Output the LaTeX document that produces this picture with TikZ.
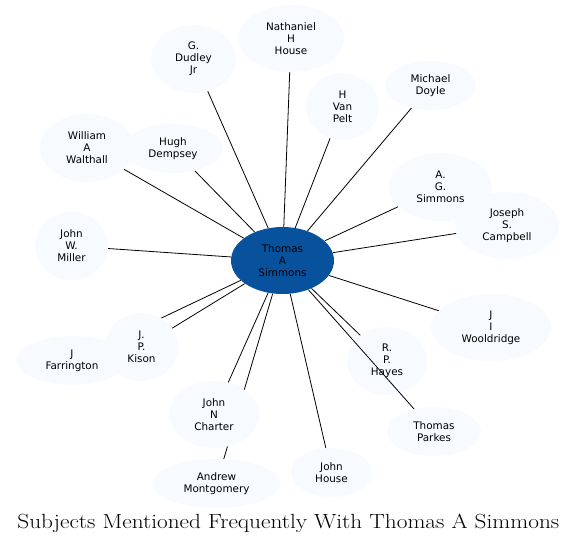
\documentclass[tikz,border=0pt]{standalone}
\usepackage{fontspec}
\newfontfamily\nodefont{DejaVu Sans}
\usetikzlibrary{shapes.geometric}
\definecolor{centerblue}{HTML}{08519C}
\definecolor{lightblue}{HTML}{F7FBFF}
\pgfdeclarelayer{background}
\pgfsetlayers{background,main}
\tikzset{
  person/.style={ellipse, fill=lightblue, draw=none, inner sep=0pt, align=center,
    font=\nodefont\fontsize{10.4}{12}\selectfont, text=black},
  hub/.style={person, fill=centerblue},
  link/.style={draw=black, line width=0.8pt}
}
\begin{document}
\begin{tikzpicture}[x=1pt,y=-1pt]
\useasboundingbox (0,0) rectangle (577,544);
% outer nodes
\node[person, minimum width=85pt, minimum height=68pt] (dudley) at (193.5,59) {G.\\Dudley\\Jr};
\node[person, minimum width=106pt, minimum height=67pt] (nathaniel) at (291,38.5) {Nathaniel\\H\\House};
\node[person, minimum width=73pt, minimum height=67pt] (vanpelt) at (342.5,106.5) {H\\Van\\Pelt};
\node[person, minimum width=91pt, minimum height=49pt] (doyle) at (430.5,85.5) {Michael\\Doyle};
\node[person, minimum width=103pt, minimum height=68pt] (agsimmons) at (440.5,187) {A.\\G.\\Simmons};
\node[person, minimum width=104pt, minimum height=67pt] (campbell) at (507,225.5) {Joseph\\S.\\Campbell};
\node[person, minimum width=94pt, minimum height=68pt] (walthall) at (87,148) {William\\A\\Walthall};
\node[person, minimum width=100pt, minimum height=49pt] (dempsey) at (173,148.5) {Hugh\\Dempsey};
\node[person, minimum width=73pt, minimum height=68pt] (miller) at (71.5,246) {John\\W.\\Miller};
\node[person, minimum width=110pt, minimum height=49pt] (farrington) at (72,360.5) {J\\Farrington};
\node[person, minimum width=73pt, minimum height=68pt] (kison) at (141.5,347) {J.\\P.\\Kison};
\node[person, minimum width=90pt, minimum height=67pt] (charter) at (214,414.5) {John\\N\\Charter};
\node[person, minimum width=129pt, minimum height=49pt] (montgomery) at (216.5,483.5) {Andrew\\Montgomery};
\node[person, minimum width=81pt, minimum height=49pt] (jhouse) at (331.5,472.5) {John\\House};
\node[person, minimum width=94pt, minimum height=49pt] (parkes) at (434,431.5) {Thomas\\Parkes};
\node[person, minimum width=80pt, minimum height=68pt] (hayes) at (387,361) {R.\\P.\\Hayes};
\node[person, minimum width=120pt, minimum height=67pt] (wooldridge) at (491,327.5) {J\\I\\Wooldridge};
% centre node
\node[hub, minimum width=103pt, minimum height=67pt] (center) at (282.5,260.5) {Thomas\\A\\Simmons};
% edges behind nodes
\begin{pgfonlayer}{background}
\foreach \t in {dudley,nathaniel,vanpelt,doyle,agsimmons,campbell,wooldridge,hayes,jhouse,montgomery,charter,kison,farrington,miller,walthall,dempsey}
  \draw[link] (center) -- (\t);
\end{pgfonlayer}
% edge drawn over R. P. Hayes
\draw[link] (center) -- (parkes);
% title
\node[inner sep=0pt, xscale=1.135, transform shape, font=\fontsize{20.5}{24}\selectfont] (title) at (288.3,523) {Subjects Mentioned Frequently With Thomas A Simmons};
\end{tikzpicture}
\end{document}
